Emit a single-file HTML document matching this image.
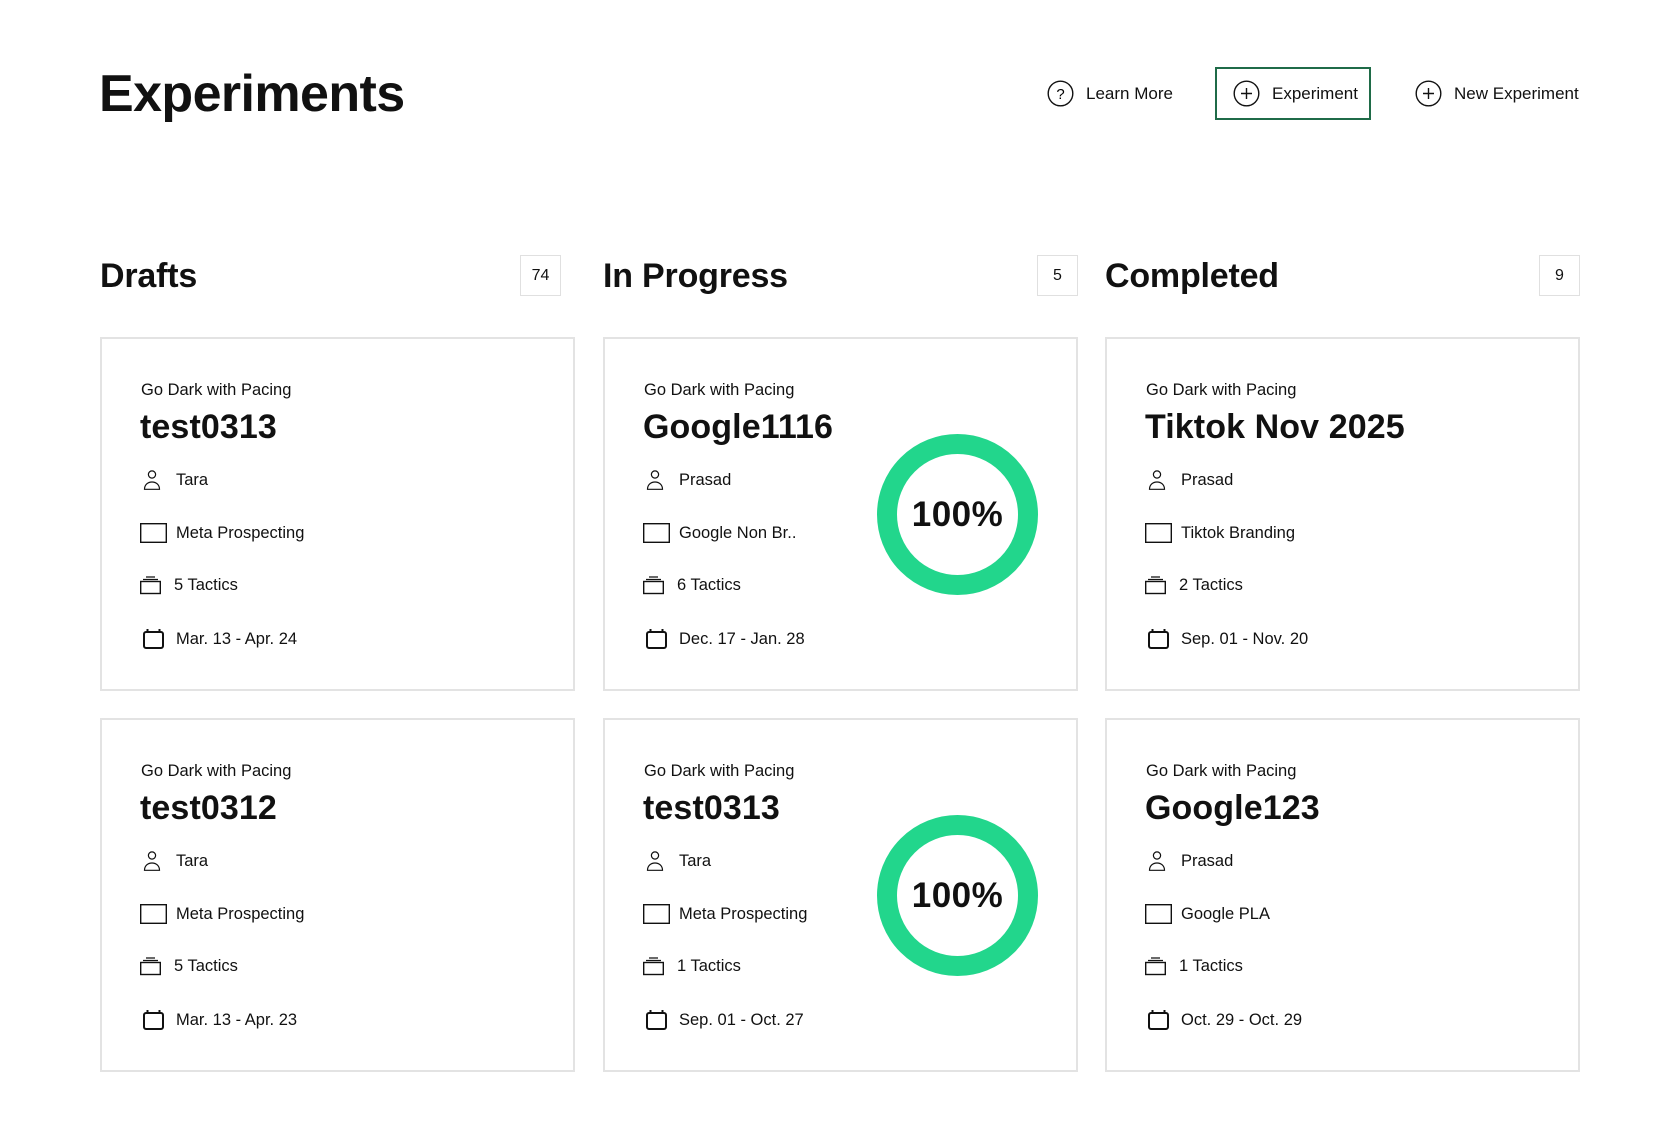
<!DOCTYPE html>
<html><head><meta charset="utf-8"><style>
*{margin:0;padding:0;box-sizing:border-box}
body{width:1680px;height:1140px;background:#fff;font-family:"Liberation Sans",sans-serif;color:#111;position:relative;overflow:hidden}
h1{position:absolute;left:99px;top:64px;font-size:52px;font-weight:bold;letter-spacing:-0.6px;line-height:60px}
.btn{position:absolute;top:67px;height:53px;display:flex;align-items:center;font-size:17px;color:#111}
.btn svg{margin-right:12px}
.col{position:absolute;font-size:34px;font-weight:bold;top:256px;line-height:40px;letter-spacing:-0.2px}
.badge{position:absolute;top:255px;width:41px;height:41px;border:1.5px solid #e0e0e0;display:flex;align-items:center;justify-content:center;font-size:16px}
.card{position:absolute;width:475px;height:354px;border:2px solid #e3e3e3;background:#fff}
.card .sub{position:absolute;left:39px;top:42px;font-size:16.5px}
.card .ttl{position:absolute;left:38px;top:69px;font-size:34px;font-weight:bold;letter-spacing:0.1px}
.row{position:absolute;left:38px;font-size:16.5px;display:flex;align-items:center}
.donut{position:absolute;left:272px;top:95px;width:161px;height:161px;border-radius:50%;border:20px solid #22d68c;display:flex;align-items:center;justify-content:center;font-size:35px;font-weight:bold;letter-spacing:0.5px}
</style></head><body>
<h1>Experiments</h1>
<div class="btn" style="left:1047px"><svg width="27" height="27" viewBox="0 0 27 27"><circle cx="13.5" cy="13.5" r="12.3" fill="none" stroke="#111" stroke-width="1.4"/><text x="13.5" y="19" font-size="15" text-anchor="middle" font-family="Liberation Sans">?</text></svg>Learn More</div>
<div class="btn" style="left:1215px;width:156px;border:2px solid #1f6b48;padding-left:16px"><svg width="27" height="27" viewBox="0 0 27 27"><circle cx="13.5" cy="13.5" r="12.3" fill="none" stroke="#111" stroke-width="1.4"/><path d="M13.5 8v11M8 13.5h11" stroke="#111" stroke-width="1.4"/></svg>Experiment</div>
<div class="btn" style="left:1415px"><svg width="27" height="27" viewBox="0 0 27 27"><circle cx="13.5" cy="13.5" r="12.3" fill="none" stroke="#111" stroke-width="1.4"/><path d="M13.5 8v11M8 13.5h11" stroke="#111" stroke-width="1.4"/></svg>New Experiment</div>

<div class="col" style="left:100px">Drafts</div><div class="badge" style="left:520px">74</div>
<div class="col" style="left:603px">In Progress</div><div class="badge" style="left:1037px">5</div>
<div class="col" style="left:1105px">Completed</div><div class="badge" style="left:1539px">9</div>

<svg width="0" height="0" style="position:absolute"><defs>
<g id="person"><circle cx="12" cy="4.5" r="3.6" fill="none" stroke="#111" stroke-width="1.2"/><path d="M4.5 19.3c0-4.5 3.3-7.3 7.5-7.3s7.5 2.8 7.5 7.3z" fill="none" stroke="#111" stroke-width="1.2"/></g>
<g id="sq"><rect x="0.7" y="0.7" width="25.6" height="18.6" fill="none" stroke="#111" stroke-width="1.4"/></g>
<g id="tac"><path d="M6 1h9M3 3.5h15" stroke="#111" stroke-width="1.2"/><rect x="0.7" y="5.5" width="19.6" height="12" fill="none" stroke="#111" stroke-width="1.4"/></g>
<g id="cal"><rect x="1" y="3" width="19" height="16" rx="2" fill="none" stroke="#111" stroke-width="2"/><path d="M4.5 0v4M16.5 0v4" stroke="#111" stroke-width="2"/></g>
</defs></svg>

<div class="card" style="left:100px;top:337px">
<div class="sub">Go Dark with Pacing</div><div class="ttl">test0313</div>
<div class="row" style="top:131px"><svg width="24" height="20" style="margin-right:12px"><use href="#person"/></svg>Tara</div>
<div class="row" style="top:184px"><svg width="27" height="20" style="margin-right:9px"><use href="#sq"/></svg>Meta Prospecting</div>
<div class="row" style="top:237px"><svg width="21" height="19" style="margin-right:13px"><use href="#tac"/></svg>5 Tactics</div>
<div class="row" style="top:290px"><svg width="26" height="21" style="margin-right:10px"><use href="#cal" x="3"/></svg>Mar. 13 - Apr. 24</div>
</div>
<div class="card" style="left:603px;top:337px">
<div class="sub">Go Dark with Pacing</div><div class="ttl">Google1116</div>
<div class="row" style="top:131px"><svg width="24" height="20" style="margin-right:12px"><use href="#person"/></svg>Prasad</div>
<div class="row" style="top:184px"><svg width="27" height="20" style="margin-right:9px"><use href="#sq"/></svg>Google Non Br..</div>
<div class="row" style="top:237px"><svg width="21" height="19" style="margin-right:13px"><use href="#tac"/></svg>6 Tactics</div>
<div class="row" style="top:290px"><svg width="26" height="21" style="margin-right:10px"><use href="#cal" x="3"/></svg>Dec. 17 - Jan. 28</div>
<div class="donut">100%</div>
</div>
<div class="card" style="left:1105px;top:337px">
<div class="sub">Go Dark with Pacing</div><div class="ttl">Tiktok Nov 2025</div>
<div class="row" style="top:131px"><svg width="24" height="20" style="margin-right:12px"><use href="#person"/></svg>Prasad</div>
<div class="row" style="top:184px"><svg width="27" height="20" style="margin-right:9px"><use href="#sq"/></svg>Tiktok Branding</div>
<div class="row" style="top:237px"><svg width="21" height="19" style="margin-right:13px"><use href="#tac"/></svg>2 Tactics</div>
<div class="row" style="top:290px"><svg width="26" height="21" style="margin-right:10px"><use href="#cal" x="3"/></svg>Sep. 01 - Nov. 20</div>
</div>

<div class="card" style="left:100px;top:718px">
<div class="sub">Go Dark with Pacing</div><div class="ttl">test0312</div>
<div class="row" style="top:131px"><svg width="24" height="20" style="margin-right:12px"><use href="#person"/></svg>Tara</div>
<div class="row" style="top:184px"><svg width="27" height="20" style="margin-right:9px"><use href="#sq"/></svg>Meta Prospecting</div>
<div class="row" style="top:237px"><svg width="21" height="19" style="margin-right:13px"><use href="#tac"/></svg>5 Tactics</div>
<div class="row" style="top:290px"><svg width="26" height="21" style="margin-right:10px"><use href="#cal" x="3"/></svg>Mar. 13 - Apr. 23</div>
</div>
<div class="card" style="left:603px;top:718px">
<div class="sub">Go Dark with Pacing</div><div class="ttl">test0313</div>
<div class="row" style="top:131px"><svg width="24" height="20" style="margin-right:12px"><use href="#person"/></svg>Tara</div>
<div class="row" style="top:184px"><svg width="27" height="20" style="margin-right:9px"><use href="#sq"/></svg>Meta Prospecting</div>
<div class="row" style="top:237px"><svg width="21" height="19" style="margin-right:13px"><use href="#tac"/></svg>1 Tactics</div>
<div class="row" style="top:290px"><svg width="26" height="21" style="margin-right:10px"><use href="#cal" x="3"/></svg>Sep. 01 - Oct. 27</div>
<div class="donut">100%</div>
</div>
<div class="card" style="left:1105px;top:718px">
<div class="sub">Go Dark with Pacing</div><div class="ttl">Google123</div>
<div class="row" style="top:131px"><svg width="24" height="20" style="margin-right:12px"><use href="#person"/></svg>Prasad</div>
<div class="row" style="top:184px"><svg width="27" height="20" style="margin-right:9px"><use href="#sq"/></svg>Google PLA</div>
<div class="row" style="top:237px"><svg width="21" height="19" style="margin-right:13px"><use href="#tac"/></svg>1 Tactics</div>
<div class="row" style="top:290px"><svg width="26" height="21" style="margin-right:10px"><use href="#cal" x="3"/></svg>Oct. 29 - Oct. 29</div>
</div>
</body></html>
